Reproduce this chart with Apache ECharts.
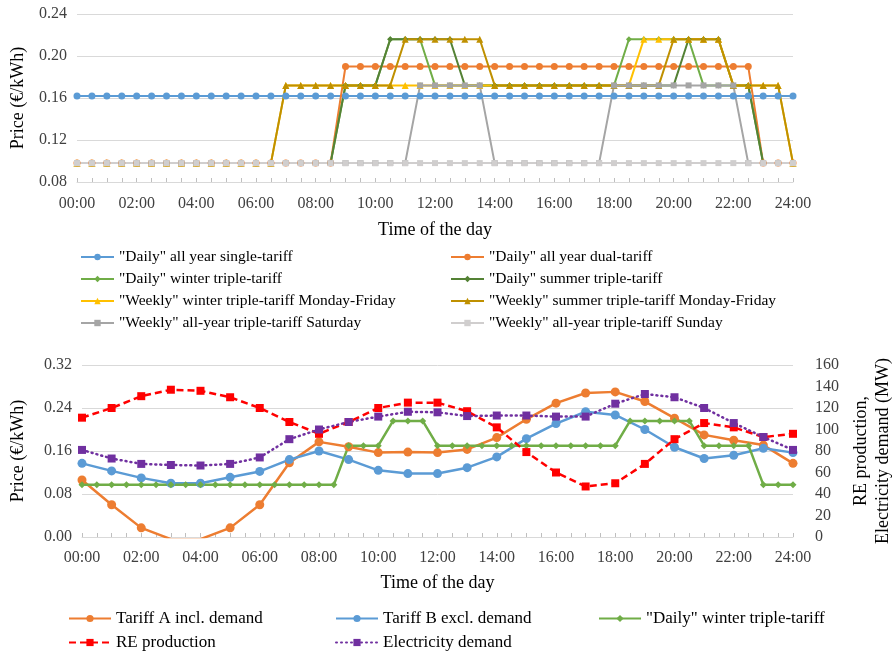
<!DOCTYPE html>
<html><head><meta charset="utf-8">
<script src="https://cdn.jsdelivr.net/npm/echarts/dist/echarts.min.js"></script>
<style>
body{margin:0;background:#fff;}
#topChart{position:absolute;left:0;top:0;width:895px;height:340px;}
#botChart{position:absolute;left:0;top:340px;width:895px;height:314px;}
</style>
</head><body>
<div id="topChart"></div><div id="botChart"></div>
<script>
// ---------- categories (half-hour steps) ----------
const timeLabels = ["00:00","00:30","01:00","01:30","02:00","02:30","03:00","03:30","04:00","04:30",
  "05:00","05:30","06:00","06:30","07:00","07:30","08:00","08:30","09:00","09:30",
  "10:00","10:30","11:00","11:30","12:00","12:30","13:00","13:30","14:00","14:30",
  "15:00","15:30","16:00","16:30","17:00","17:30","18:00","18:30","19:00","19:30",
  "20:00","20:30","21:00","21:30","22:00","22:30","23:00","23:30","24:00"];
const hourLabels = timeLabels.filter((t, i) => i % 2 === 0);

// ---------- top chart series (price, €/kWh, half-hourly) ----------
const dailySingle = [0.162,0.162,0.162,0.162,0.162,0.162,0.162,0.162,0.162,0.162,
  0.162,0.162,0.162,0.162,0.162,0.162,0.162,0.162,0.162,0.162,
  0.162,0.162,0.162,0.162,0.162,0.162,0.162,0.162,0.162,0.162,
  0.162,0.162,0.162,0.162,0.162,0.162,0.162,0.162,0.162,0.162,
  0.162,0.162,0.162,0.162,0.162,0.162,0.162,0.162,0.162];
const dailyDual = [0.098,0.098,0.098,0.098,0.098,0.098,0.098,0.098,0.098,0.098,
  0.098,0.098,0.098,0.098,0.098,0.098,0.098,0.098,0.19,0.19,
  0.19,0.19,0.19,0.19,0.19,0.19,0.19,0.19,0.19,0.19,
  0.19,0.19,0.19,0.19,0.19,0.19,0.19,0.19,0.19,0.19,
  0.19,0.19,0.19,0.19,0.19,0.19,0.098,0.098,0.098];
const dailyWinter = [0.098,0.098,0.098,0.098,0.098,0.098,0.098,0.098,0.098,0.098,
  0.098,0.098,0.098,0.098,0.098,0.098,0.098,0.098,0.172,0.172,
  0.172,0.216,0.216,0.216,0.172,0.172,0.172,0.172,0.172,0.172,
  0.172,0.172,0.172,0.172,0.172,0.172,0.172,0.216,0.216,0.216,
  0.216,0.216,0.172,0.172,0.172,0.172,0.098,0.098,0.098];
const dailySummer = [0.098,0.098,0.098,0.098,0.098,0.098,0.098,0.098,0.098,0.098,
  0.098,0.098,0.098,0.098,0.098,0.098,0.098,0.098,0.172,0.172,
  0.172,0.216,0.216,0.216,0.216,0.216,0.172,0.172,0.172,0.172,
  0.172,0.172,0.172,0.172,0.172,0.172,0.172,0.172,0.172,0.172,
  0.172,0.216,0.216,0.216,0.172,0.172,0.098,0.098,0.098];
const weeklyWinterMF = [0.098,0.098,0.098,0.098,0.098,0.098,0.098,0.098,0.098,0.098,
  0.098,0.098,0.098,0.098,0.172,0.172,0.172,0.172,0.172,0.172,
  0.172,0.172,0.172,0.172,0.172,0.172,0.172,0.172,0.172,0.172,
  0.172,0.172,0.172,0.172,0.172,0.172,0.172,0.172,0.216,0.216,
  0.216,0.216,0.216,0.216,0.172,0.172,0.172,0.172,0.098];
const weeklySummerMF = [0.098,0.098,0.098,0.098,0.098,0.098,0.098,0.098,0.098,0.098,
  0.098,0.098,0.098,0.098,0.172,0.172,0.172,0.172,0.172,0.172,
  0.172,0.172,0.216,0.216,0.216,0.216,0.216,0.216,0.172,0.172,
  0.172,0.172,0.172,0.172,0.172,0.172,0.172,0.172,0.172,0.172,
  0.216,0.216,0.216,0.216,0.172,0.172,0.172,0.172,0.098];
const weeklySaturday = [0.098,0.098,0.098,0.098,0.098,0.098,0.098,0.098,0.098,0.098,
  0.098,0.098,0.098,0.098,0.098,0.098,0.098,0.098,0.098,0.098,
  0.098,0.098,0.098,0.172,0.172,0.172,0.172,0.172,0.098,0.098,
  0.098,0.098,0.098,0.098,0.098,0.098,0.172,0.172,0.172,0.172,
  0.172,0.172,0.172,0.172,0.172,0.098,0.098,0.098,0.098];
const weeklySunday = [0.098,0.098,0.098,0.098,0.098,0.098,0.098,0.098,0.098,0.098,
  0.098,0.098,0.098,0.098,0.098,0.098,0.098,0.098,0.098,0.098,
  0.098,0.098,0.098,0.098,0.098,0.098,0.098,0.098,0.098,0.098,
  0.098,0.098,0.098,0.098,0.098,0.098,0.098,0.098,0.098,0.098,
  0.098,0.098,0.098,0.098,0.098,0.098,0.098,0.098,0.098];

// ---------- bottom chart series ----------
// hourly prices (€/kWh)
const tariffA = [0.106,0.060,0.017,-0.004,-0.004,0.017,0.060,0.138,0.177,0.168,0.157,0.158,0.157,
  0.163,0.185,0.219,0.249,0.268,0.270,0.252,0.221,0.190,0.180,0.171,0.137];
const tariffB = [0.137,0.123,0.110,0.100,0.100,0.111,0.122,0.144,0.160,0.144,0.124,0.118,0.118,
  0.129,0.149,0.183,0.211,0.233,0.227,0.200,0.167,0.146,0.152,0.165,0.157];
// half-hourly price (€/kWh)
const winterTriple = [0.097,0.097,0.097,0.097,0.097,0.097,0.097,0.097,0.097,0.097,
  0.097,0.097,0.097,0.097,0.097,0.097,0.097,0.097,0.170,0.170,
  0.170,0.216,0.216,0.216,0.170,0.170,0.170,0.170,0.170,0.170,
  0.170,0.170,0.170,0.170,0.170,0.170,0.170,0.216,0.216,0.216,
  0.216,0.216,0.170,0.170,0.170,0.170,0.097,0.097,0.097];
// hourly MW
const reProduction = [111,120,131,137,136,130,120,107,96,107,120,125,125,
  117,102,79,60,47,50,68,91,106,102,93,96];
const elecDemand = [81,73,68,67,66.5,68,74,91,100,107,112,116.5,116,
  112.5,113,113,112,112,124,133,130,120,106,93,81];

// ---------- tick labels ----------
const topYTicks = [0.08, 0.12, 0.16, 0.20, 0.24];
const botYTicks = [0.00, 0.08, 0.16, 0.24, 0.32];
const botY2Ticks = [0, 20, 40, 60, 80, 100, 120, 140, 160];

const FONT = 'Liberation Serif';
const TXT = '#404040';
const GRID = '#D9D9D9';

function lineSeries(name, data, color, symbol, size, extra) {
  return Object.assign({
    name: name, type: 'line', data: data, symbol: symbol, symbolSize: size,
    color: color, itemStyle: { color: color },
    lineStyle: { color: color, width: 2 }, animation: false
  }, extra || {});
}

// ===== TOP CHART =====
const chartTop = echarts.init(document.getElementById('topChart'), null, { renderer: 'canvas' });
const topNames = ['"Daily" all year single-tariff', '"Daily" all year dual-tariff',
  '"Daily" winter triple-tariff', '"Daily" summer triple-tariff',
  '"Weekly" winter triple-tariff Monday-Friday', '"Weekly" summer triple-tariff Monday-Friday',
  '"Weekly" all-year triple-tariff Saturday', '"Weekly" all-year triple-tariff Sunday'];
const legendTextTop = { fontFamily: FONT, fontSize: 15.5, color: '#000' };
const legendTextBot = { fontFamily: FONT, fontSize: 17, color: '#000' };
chartTop.setOption({
  animation: false,
  textStyle: { fontFamily: FONT },
  grid: { left: 77, right: 102, top: 14, height: 168, outerBoundsMode: 'none' },
  xAxis: {
    type: 'category', data: timeLabels, boundaryGap: false,
    axisLine: { lineStyle: { color: GRID, width: 1 } },
    axisTick: { show: true, interval: 0, inside: true, length: 4, lineStyle: { color: '#BFBFBF' } },
    axisLabel: { interval: 3, color: TXT, fontFamily: FONT, fontSize: 16, margin: 14 },
    splitLine: { show: false },
    name: 'Time of the day', nameLocation: 'middle', nameGap: 39,
    nameTextStyle: { fontFamily: FONT, fontSize: 18, color: '#000' }
  },
  yAxis: {
    type: 'value', min: topYTicks[0], max: topYTicks[topYTicks.length - 1], interval: 0.04,
    axisLine: { show: false }, axisTick: { show: false },
    axisLabel: { color: TXT, fontFamily: FONT, fontSize: 16, margin: 10, formatter: v => v.toFixed(2) },
    splitLine: { lineStyle: { color: GRID, width: 1 } },
    name: 'Price (€/kWh)', nameLocation: 'middle', nameGap: 50,
    nameTextStyle: { fontFamily: FONT, fontSize: 18, color: '#000' }
  },
  legend: [
    { orient: 'vertical', left: 80, top: 249, height: 120, padding: 0, itemWidth: 33, itemHeight: 8, itemGap: 6,
      textStyle: legendTextTop, data: [topNames[0], topNames[2], topNames[4], topNames[6]] },
    { orient: 'vertical', left: 450, top: 249, height: 120, padding: 0, itemWidth: 33, itemHeight: 8, itemGap: 6,
      textStyle: legendTextTop, data: [topNames[1], topNames[3], topNames[5], topNames[7]] }
  ],
  series: [
    lineSeries(topNames[0], dailySingle, '#5B9BD5', 'circle', 7),
    lineSeries(topNames[1], dailyDual, '#ED7D31', 'circle', 7),
    lineSeries(topNames[2], dailyWinter, '#70AD47', 'diamond', 6),
    lineSeries(topNames[3], dailySummer, '#548235', 'diamond', 6),
    lineSeries(topNames[4], weeklyWinterMF, '#FFC000', 'triangle', 7),
    lineSeries(topNames[5], weeklySummerMF, '#BF9000', 'triangle', 7),
    lineSeries(topNames[6], weeklySaturday, '#A5A5A5', 'rect', 6),
    lineSeries(topNames[7], weeklySunday, '#D0CECE', 'rect', 6)
  ]
});

// ===== BOTTOM CHART =====
const chartBot = echarts.init(document.getElementById('botChart'), null, { renderer: 'canvas' });
const botNames = ['Tariff A incl. demand', 'Tariff B excl. demand', '"Daily" winter triple-tariff',
  'RE production', 'Electricity demand'];
const pairs = arr => arr.map((v, i) => [hourLabels[i], v]);
chartBot.setOption({
  animation: false,
  textStyle: { fontFamily: FONT },
  grid: { left: 82, right: 102, top: 25, height: 172, outerBoundsMode: 'none' },
  xAxis: {
    type: 'category', data: timeLabels, boundaryGap: false,
    axisLine: { lineStyle: { color: GRID, width: 1 } },
    axisTick: { show: true, interval: 0, inside: true, length: 4, lineStyle: { color: '#BFBFBF' } },
    axisLabel: { interval: 3, color: TXT, fontFamily: FONT, fontSize: 16, margin: 13 },
    name: 'Time of the day', nameLocation: 'middle', nameGap: 37,
    nameTextStyle: { fontFamily: FONT, fontSize: 18, color: '#000' }
  },
  yAxis: [
    { type: 'value', min: botYTicks[0], max: botYTicks[botYTicks.length - 1], interval: 0.08,
      axisLine: { show: false }, axisTick: { show: false },
      axisLabel: { color: TXT, fontFamily: FONT, fontSize: 16, margin: 10, formatter: v => v.toFixed(2) },
      splitLine: { lineStyle: { color: GRID, width: 1 } },
      name: 'Price (€/kWh)', nameLocation: 'middle', nameGap: 55,
      nameTextStyle: { fontFamily: FONT, fontSize: 18, color: '#000' } },
    { type: 'value', position: 'right', min: botY2Ticks[0], max: botY2Ticks[botY2Ticks.length - 1], interval: 20,
      axisLine: { show: false }, axisTick: { show: false }, splitLine: { show: false },
      axisLabel: { color: TXT, fontFamily: FONT, fontSize: 16, margin: 22 },
      name: 'RE production,\nElectricity demand (MW)', nameLocation: 'middle', nameGap: 56, nameRotate: 90,
      nameTextStyle: { fontFamily: FONT, fontSize: 18, color: '#000', lineHeight: 22 } }
  ],
  legend: [
    { orient: 'vertical', left: 68, top: 270, height: 60, padding: 0, itemWidth: 42, itemHeight: 9, itemGap: 7,
      textStyle: legendTextBot, data: [botNames[0], botNames[3]] },
    { orient: 'vertical', left: 335, top: 270, height: 60, padding: 0, itemWidth: 42, itemHeight: 9, itemGap: 7,
      textStyle: legendTextBot, data: [botNames[1], botNames[4]] },
    { orient: 'vertical', left: 598, top: 270, height: 60, padding: 0, itemWidth: 42, itemHeight: 9, itemGap: 7,
      textStyle: legendTextBot, data: [botNames[2]] }
  ],
  series: [
    lineSeries(botNames[0], pairs(tariffA), '#ED7D31', 'circle', 9, { lineStyle: { color: '#ED7D31', width: 2.5 } }),
    lineSeries(botNames[1], pairs(tariffB), '#5B9BD5', 'circle', 9, { lineStyle: { color: '#5B9BD5', width: 2.5 } }),
    lineSeries(botNames[2], winterTriple, '#70AD47', 'diamond', 7, { lineStyle: { color: '#70AD47', width: 2.5 } }),
    lineSeries(botNames[3], pairs(reProduction), '#FF0000', 'rect', 8,
      { yAxisIndex: 1, lineStyle: { color: '#FF0000', width: 2.5, type: [7, 4] } }),
    lineSeries(botNames[4], pairs(elecDemand), '#7030A0', 'rect', 8,
      { yAxisIndex: 1, lineStyle: { color: '#7030A0', width: 2.5, type: [1, 4], cap: 'round' } })
  ]
});
</script>
</body></html>
